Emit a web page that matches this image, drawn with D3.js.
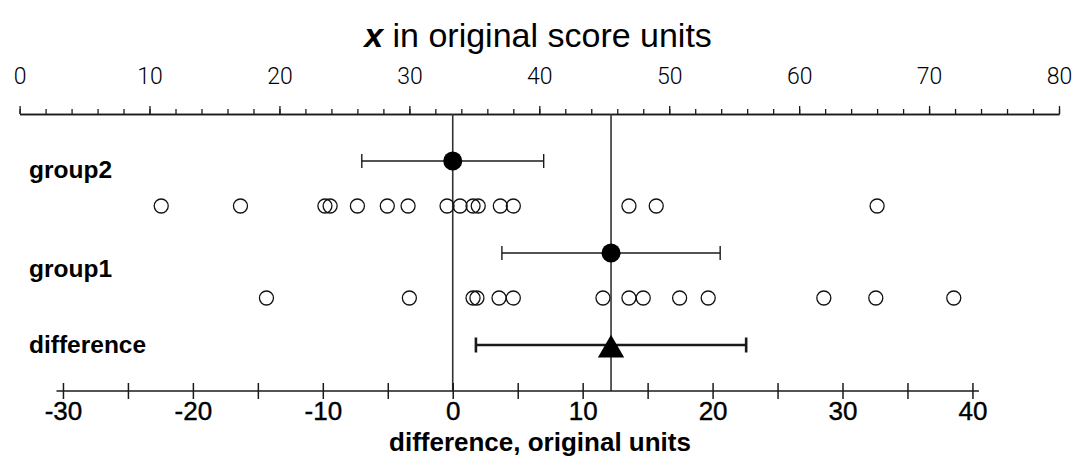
<!DOCTYPE html>
<html>
<head>
<meta charset="utf-8">
<script src="https://cdn.jsdelivr.net/npm/d3@7"></script>
<style>
  html, body { margin: 0; padding: 0; background: #fff; }
  svg { display: block; }
  text { font-family: Arial, "Liberation Sans", sans-serif; fill: #000; }
</style>
</head>
<body>
<svg id="chart" width="1076" height="459"></svg>
<script>
// Raw scores per group (original score units)
const group2Scores = [10.9, 17.0, 23.5, 23.9, 26.0, 28.3, 29.9, 32.9, 33.9, 34.9, 35.3, 37.0, 38.0, 46.9, 49.0, 66.0];
const group1Scores = [19.0, 30.0, 34.9, 35.2, 36.9, 38.0, 44.9, 46.9, 48.0, 50.8, 53.0, 61.9, 65.9, 71.9];

// 95% confidence-interval half widths
const ciHalfWidths = { group2: 7.0, group1: 8.4, difference: 10.4 };

// Axis ticks
const topTickLabels = [0, 10, 20, 30, 40, 50, 60, 70, 80];
const topMinorTicks = d3.range(0, 81, 2);
const bottomTickLabels = [-30, -20, -10, 0, 10, 20, 30, 40];
const bottomMinorTicks = d3.range(-30, 41, 5);

const rowLabels = ["group2", "group1", "difference"];

const svg = d3.select("#chart");
const ink = "#1a1a1a";

const mean2 = d3.mean(group2Scores);
const mean1 = d3.mean(group1Scores);
const diff = mean1 - mean2;

// Original-score scale on top; difference scale is the same scale shifted so 0 sits on group2's mean
const x = d3.scaleLinear().domain([0, 80]).range([19.6, 1059]);
const xDiff = d3.scaleLinear().domain([-mean2, 80 - mean2]).range(x.range());

const topAxisY = 114;
const bottomAxisY = 391;
const rows = {
  group2: { label: 178, mean: 161, points: 206 },
  group1: { label: 277, mean: 253, points: 298 },
  difference: { label: 353, mean: 345 }
};

// Title
svg.append("text")
  .attr("x", 538).attr("y", 47)
  .attr("text-anchor", "middle")
  .style("font-size", "34px")
  .call(t => {
    t.append("tspan").text("x").style("font-style", "italic").style("font-weight", "bold");
    t.append("tspan").text(" in original score units");
  });

// Top axis: minor ticks every 2, major every 10
const topMinor = svg.append("g").attr("transform", `translate(0,${topAxisY})`)
  .call(d3.axisTop(x).tickValues(topMinorTicks).tickSize(5).tickSizeOuter(0).tickFormat(""));
const topMajor = svg.append("g").attr("transform", `translate(0,${topAxisY})`)
  .call(d3.axisTop(x).tickValues(topTickLabels).tickSize(8).tickSizeOuter(0).tickPadding(22));
[topMinor, topMajor].forEach(g => {
  g.selectAll("path.domain").attr("stroke", ink).attr("stroke-width", 1.5);
  g.selectAll(".tick line").attr("stroke", ink).attr("stroke-width", 1.3);
});
topMajor.selectAll(".tick text")
  .style("font-family", "Roboto, Arial, sans-serif")
  .style("font-weight", 300)
  .style("font-size", "23px")
  .attr("fill", "#222");

// Reference lines at the two group means (zero and observed difference)
[mean2, mean1].forEach(m => {
  svg.append("line")
    .attr("x1", x(m)).attr("x2", x(m))
    .attr("y1", topAxisY).attr("y2", bottomAxisY)
    .attr("stroke", "#333").attr("stroke-width", 1.6);
});

// Bottom axis (difference units): ticks cross the line
const bottom = svg.append("g").attr("transform", `translate(0,${bottomAxisY})`)
  .call(d3.axisBottom(xDiff).tickValues(bottomMinorTicks).tickSize(8).tickSizeOuter(0)
    .tickPadding(3)
    .tickFormat(d => bottomTickLabels.includes(d) ? d3.format("d")(d).replace("−", "-") : ""));
bottom.select("path.domain")
  .attr("d", `M${xDiff(-30.5)},0H${xDiff(40.5)}`)
  .attr("stroke", ink).attr("stroke-width", 1.6);
bottom.selectAll(".tick line").attr("y1", -8).attr("y2", 8)
  .attr("stroke", ink).attr("stroke-width", 1.5);
bottom.selectAll(".tick text")
  .style("font-size", "26px")
  .attr("fill", "#000")
  .attr("stroke", "#000").attr("stroke-width", 0.4);

svg.append("text")
  .attr("x", 540).attr("y", 451)
  .attr("text-anchor", "middle")
  .style("font-size", "26px")
  .style("font-weight", "bold")
  .text("difference, original units");

// Row labels
rowLabels.forEach(name => {
  svg.append("text")
    .attr("x", 29).attr("y", rows[name].label)
    .style("font-size", "24.5px")
    .style("font-weight", "bold")
    .text(name);
});

// Raw data points
[["group2", group2Scores], ["group1", group1Scores]].forEach(([name, data]) => {
  svg.append("g").selectAll("circle").data(data).join("circle")
    .attr("cx", d => x(d)).attr("cy", rows[name].points)
    .attr("r", 7)
    .attr("fill", "none").attr("stroke", "#111").attr("stroke-width", 1.3);
});

// Group means with CIs
function errorBar(x0, x1, y, width, cap) {
  const g = svg.append("g").attr("stroke", ink).attr("stroke-width", width);
  g.append("line").attr("x1", x0).attr("x2", x1).attr("y1", y).attr("y2", y);
  [x0, x1].forEach(xx => g.append("line").attr("x1", xx).attr("x2", xx).attr("y1", y - cap).attr("y2", y + cap));
}
[["group2", mean2], ["group1", mean1]].forEach(([name, m]) => {
  const h = ciHalfWidths[name];
  errorBar(x(m - h), x(m + h), rows[name].mean, 1.4, 7);
  svg.append("circle")
    .attr("cx", x(m)).attr("cy", rows[name].mean)
    .attr("r", 9.5).attr("fill", "#000");
});

// Difference with CI on the difference scale
const hd = ciHalfWidths.difference;
errorBar(xDiff(diff - hd), xDiff(diff + hd), rows.difference.mean, 2.6, 7.5);
svg.append("path")
  .attr("d", d3.symbol(d3.symbolTriangle, 300)())
  .attr("transform", `translate(${xDiff(diff)},${rows.difference.mean + 5})`)
  .attr("fill", "#000");
</script>
</body>
</html>
